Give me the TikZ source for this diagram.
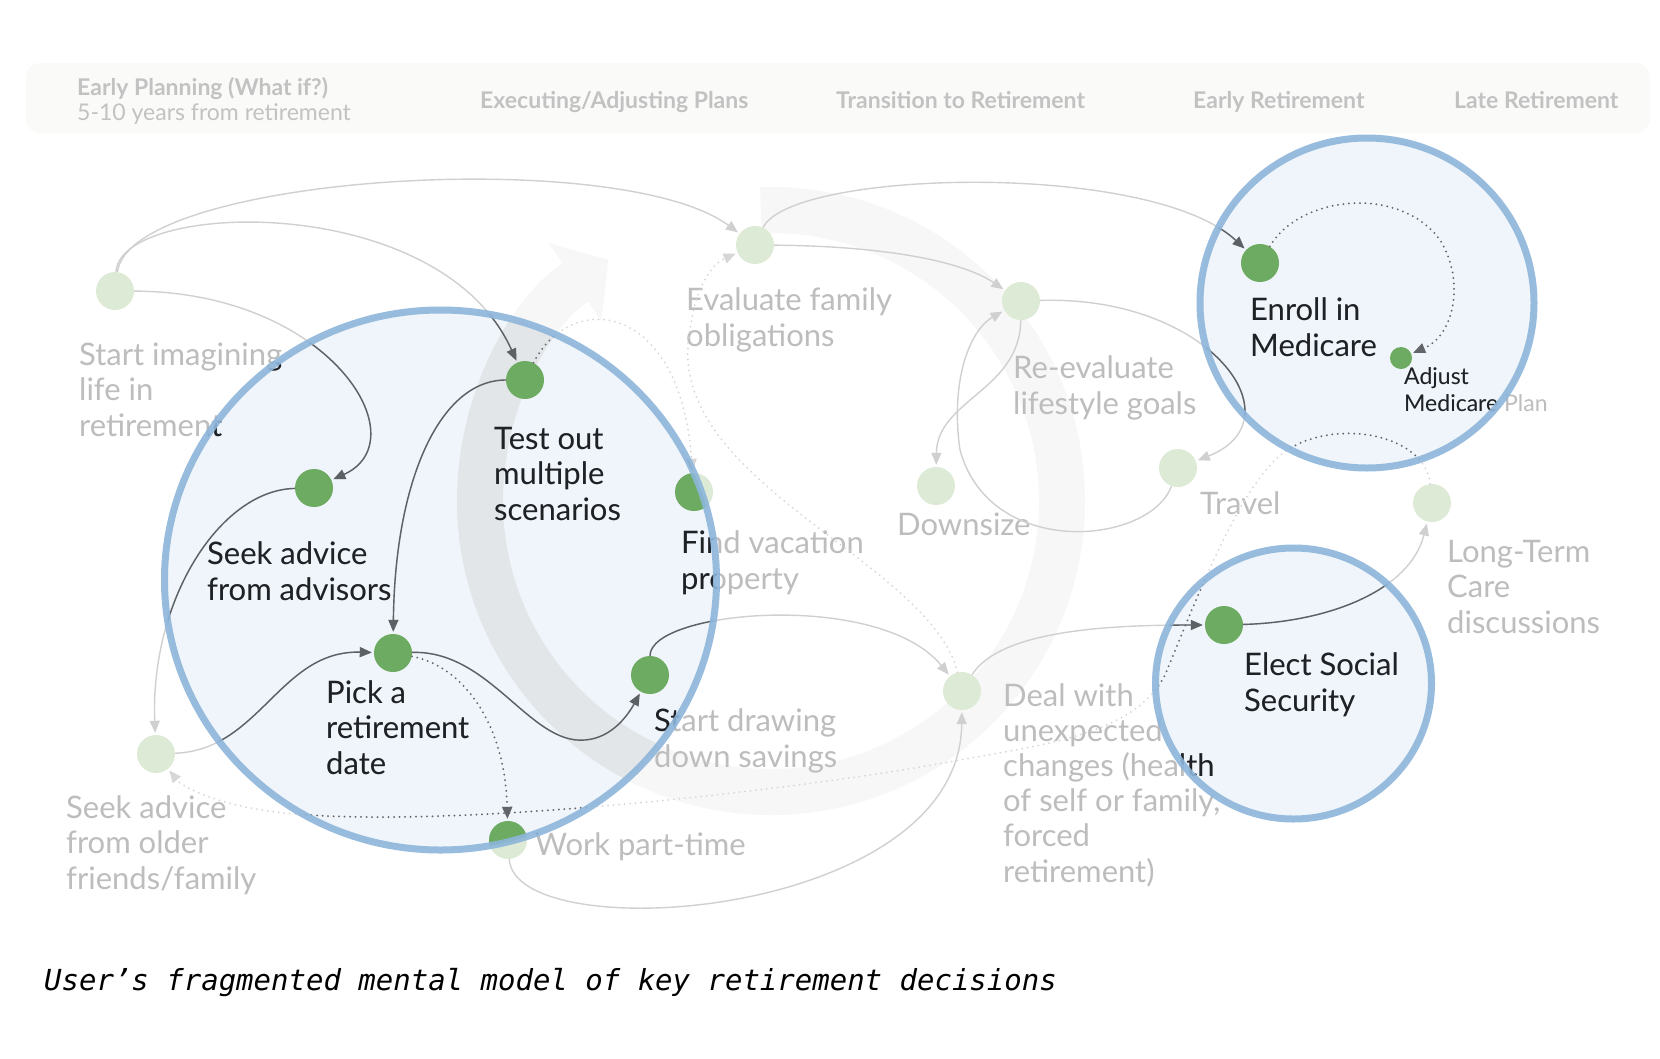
\documentclass[tikz,border=0pt]{standalone}
\usepackage{fontspec}
\setmainfont{Lato}
\newfontfamily\capfont{DejaVu Sans Mono}
\usetikzlibrary{arrows.meta}

\definecolor{hdrfill}{HTML}{FAFAF9}
\definecolor{hdrtext}{HTML}{C2C2C2}
\definecolor{bandout}{HTML}{F7F7F7}
\definecolor{bandin}{HTML}{E3E6E9}
\definecolor{circfill}{HTML}{EFF5FA}
\definecolor{circline}{HTML}{8DB5DA}
\definecolor{linegray}{HTML}{D0D0D0}
\definecolor{dotsgray}{HTML}{D6D6D6}
\definecolor{textgray}{HTML}{BDBDBD}
\definecolor{dotlight}{HTML}{DDEBD6}
\definecolor{linedark}{HTML}{5C6166}
\definecolor{dotsdark}{HTML}{62666B}
\definecolor{textdark}{HTML}{1E2125}
\definecolor{dotdark}{HTML}{6DAB62}

% the whole map of stops and links, drawn once faint and once dark inside the bubbles
% (labels are placed at the baseline of their last line)
\newcommand\drawmap{%
  % stops
  \node[dot] (st) at (115,291) {};
  \node[dot] (ev) at (755,245) {};
  \node[dot] (re) at (1021,301) {};
  \node[dot] (dw) at (936,486) {};
  \node[dot] (tr) at (1178,468) {};
  \node[dot] (lt) at (1432,503) {};
  \node[dot] (dl) at (962,691) {};
  \node[dot] (so) at (156,754) {};
  \node[dot] (wk) at (508,840) {};
  \node[dot] (fv) at (694,492) {};
  \node[dot] (ts) at (525,380) {};
  \node[dot] (sa) at (314,488) {};
  \node[dot] (pk) at (393,653) {};
  \node[dot] (sd) at (650,675) {};
  \node[dot] (en) at (1260,263) {};
  \node[smalldot] (ad) at (1401,358) {};
  \node[dot] (el) at (1224,625) {};
  % labels
  \node[lbl] (stl) at (79,436)   {Start imagining\\life in\\retirement};
  \node[lbl] (evl) at (686,346)  {Evaluate family\\obligations};
  \node[lbl] (rel) at (1013,414) {Re-evaluate\\lifestyle goals};
  \node[lbl] (enl) at (1250,356) {Enroll in\\Medicare};
  \node[smalllbl] (adl) at (1404,411) {Adjust\\Medicare Plan};
  \node[lbl] (dwl) at (897,535)  {Downsize};
  \node[lbl] (trl) at (1200,514) {Travel};
  \node[lbl] (ltl) at (1447,633) {Long-Term\\Care\\discussions};
  \node[lbl] (ell) at (1244,711) {Elect Social\\Security};
  \node[lbl] (dll) at (1003,882) {Deal with\\unexpected\\changes (health\\of self or family,\\forced\\retirement)};
  \node[lbl] (fvl) at (681,589)  {Find vacation\\property};
  \node[lbl] (tsl) at (494,520)  {Test out\\multiple\\scenarios};
  \node[lbl] (sal) at (207,600)  {Seek advice\\from advisors};
  \node[lbl] (pkl) at (326,774)  {Pick a\\retirement\\date};
  \node[lbl] (sdl) at (654,767)  {Start drawing\\down savings};
  \node[lbl] (wkl) at (535,855)  {Work part-time};
  \node[lbl] (sol) at (66,889)   {Seek advice\\from older\\friends/family};
  % links
  \draw[link] (st) .. controls (130,175) and (620,145) .. (ev);
  \draw[link] (st) .. controls (120,200) and (440,190) .. (ts);
  \draw[link] (st) .. controls (330,292) and (420,440) .. (sa);
  \draw[link] (sa) .. controls (220,490) and (150,600) .. (so);
  \draw[link] (so) .. controls (260,750) and (280,650) .. (pk);
  \draw[link] (ts) .. controls (440,380) and (395,480) .. (pk);
  \draw[link] (pk) .. controls (490,650) and (530,745) .. (585,740)
                   .. controls (612,738) and (628,715) .. (sd);
  \draw[link] (sd) .. controls (650,610) and (880,590) .. (dl);
  \draw[link] (wk) .. controls (515,950) and (960,920) .. (dl);
  \draw[link] (ev) .. controls (880,246) and (960,260) .. (re);
  \draw[link] (ev) .. controls (790,170) and (1150,160) .. (en);
  \draw[link] (re) .. controls (1020,390) and (937,400) .. (dw);
  \draw[link] (tr) .. controls (1150,545) and (990,560) .. (960,450)
                   .. controls (950,380) and (970,330) .. (re);
  \draw[link] (re) .. controls (1210,295) and (1300,420) .. (tr);
  \draw[link] (dl) .. controls (1000,630) and (1110,625) .. (el);
  \draw[link] (el) .. controls (1330,622) and (1410,590) .. (lt);
  % dotted links
  \draw[dotlink] (pk) .. controls (460,665) and (505,720) .. (wk);
  \draw[dotlink] (en) .. controls (1300,195) and (1400,185) .. (1440,240)
                      .. controls (1465,280) and (1455,335) .. (ad);
  \draw[dotlink] (ts) .. controls (570,290) and (680,300) .. (fv);
  \draw[dotlink] (dl) .. controls (930,560) and (660,480) .. (690,330)
                      .. controls (695,290) and (710,265) .. (ev);
  \draw[dotlink] (lt) .. controls (1425,430) and (1320,415) .. (1275,460)
                      .. controls (1235,500) and (1200,590) .. (1165,675)
                      .. controls (1135,735) and (1040,745) .. (960,760)
                      .. controls (800,790) and (450,830) .. (285,813)
                      .. controls (230,808) and (185,790) .. (so);
}

\begin{document}
\begin{tikzpicture}[
  x=1pt, y=-1pt,
  dot/.style={circle, fill=mapdot, minimum size=38pt, inner sep=0pt},
  smalldot/.style={dot, minimum size=22pt},
  lbl/.style={anchor=base west, align=left, inner sep=0pt, text=maptext, font=\fontsize{31}{35.2}\selectfont},
  smalllbl/.style={lbl, font=\fontsize{23}{26.5}\selectfont},
  link/.style={draw=mapline, line width=1.4pt, -{Triangle[length=12pt, width=10pt]}, shorten >=2pt},
  dotlink/.style={link, draw=mapdots, line width=2pt, line cap=round, dash pattern=on 0pt off 5.5pt},
  phase/.style={anchor=base west, inner sep=0pt, text=hdrtext, font=\bfseries\fontsize{23}{26}\selectfont},
  loopband/.style={line width=46pt, -{Triangle[length=40pt, width=92pt]}},
  rim/.style={draw=circline, line width=7pt, draw opacity=0.9}
]
\fill[white] (0,0) rectangle (1660,1058);
\useasboundingbox (0,0) rectangle (1660,1058);

% phase header
\fill[hdrfill, rounded corners=14pt] (26,63) rectangle (1650,133);
\node[phase] (p1)  at (77,95)   {Early Planning (What if?)};
\node[phase, font=\fontsize{23}{26}\selectfont] (p1s) at (77,120) {5-10 years from retirement};
\node[phase] (p2)  at (480,108)  {Executing/Adjusting Plans};
\node[phase] (p3)  at (836,108)  {Transition to Retirement};
\node[phase] (p4)  at (1193,108) {Early Retirement};
\node[phase] (p5)  at (1454,108) {Late Retirement};

% big loop in the back
\coordinate (loopc) at (771,501);
\draw[loopband, draw=bandout] ([shift={(268:291)}]loopc) arc[start angle=268, end angle=596, radius=291];

% bubbles
\fill[circfill] (440.5,580) ellipse [x radius=276, y radius=270];
\fill[circfill] (1367,303) ellipse [x radius=167, y radius=165];
\fill[circfill] (1293.5,683.5) ellipse [x radius=138, y radius=135.5];
\begin{scope}
  \clip (440.5,580) ellipse [x radius=276, y radius=270];
  \draw[loopband, draw=bandin] ([shift={(268:291)}]loopc) arc[start angle=268, end angle=596, radius=291];
\end{scope}

% faint pass
\begin{scope}
  \colorlet{mapline}{linegray}\colorlet{mapdots}{dotsgray}
  \colorlet{maptext}{textgray}\colorlet{mapdot}{dotlight}
  \drawmap
\end{scope}

% dark pass inside each bubble
\foreach \cx/\cy/\rx/\ry in {440.5/580/276/270, 1367/303/167/165, 1293.5/683.5/138/135.5} {
  \begin{scope}
    \clip (\cx,\cy) ellipse [x radius=\rx, y radius=\ry];
    \colorlet{mapline}{linedark}\colorlet{mapdots}{dotsdark}
    \colorlet{maptext}{textdark}\colorlet{mapdot}{dotdark}
    \drawmap
  \end{scope}
  \draw[rim] (\cx,\cy) ellipse [x radius=\rx, y radius=\ry];
}

% caption
\node[anchor=base west, inner sep=0pt, font=\capfont\itshape\fontsize{29}{30}\selectfont] (cap) at (44,990)
  {User’s fragmented mental model of key retirement decisions};
\end{tikzpicture}
\end{document}
